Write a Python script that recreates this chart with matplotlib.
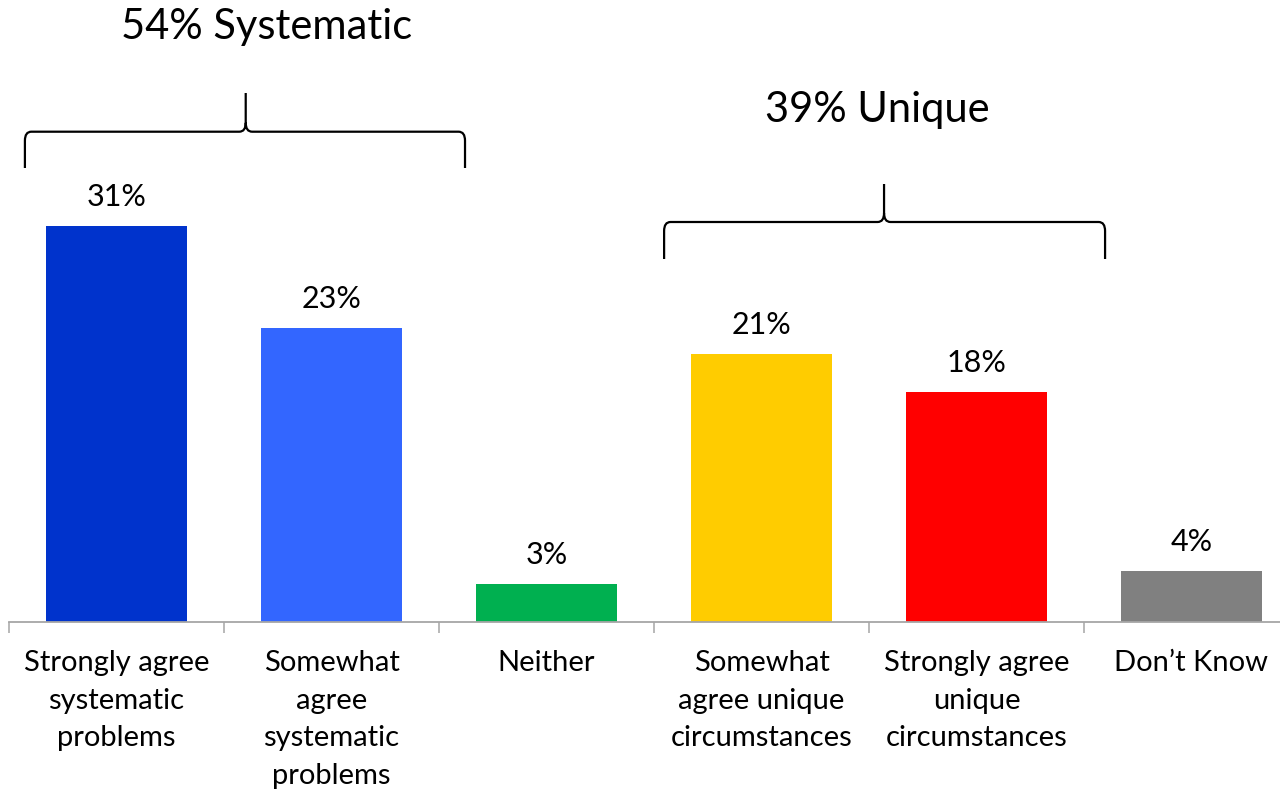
import matplotlib
matplotlib.use("Agg")
import matplotlib.pyplot as plt
from matplotlib.path import Path
from matplotlib.patches import PathPatch

# ---- data ----
categories = [
    "Strongly agree\nsystematic\nproblems",
    "Somewhat\nagree\nsystematic\nproblems",
    "Neither",
    "Somewhat\nagree unique\ncircumstances",
    "Strongly agree\nunique\ncircumstances",
    "Don\u2019t Know",
]
values = [31, 23, 3, 21, 18, 4]
value_labels = ["31%", "23%", "3%", "21%", "18%", "4%"]
group_labels = ["54% Systematic", "39% Unique"]

# ---- style ----
colors = ["#0033CC", "#3366FF", "#00B050", "#FFCC00", "#FF0000", "#808080"]
FONT = "Lato"
plt.rcParams["font.family"] = [FONT, "DejaVu Sans"]

W, H = 1280, 791
fig = plt.figure(figsize=(W / 100, H / 100), dpi=100)
ax_left, ax_right, ax_bottom = 9, 1280, 622
ax = fig.add_axes([ax_left / W, (H - ax_bottom) / H, (ax_right - ax_left) / W, ax_bottom / H])

px_per_cat = 215.0
px_per_unit = 12.77
x0 = -0.5
x1 = x0 + (ax_right - ax_left) / px_per_cat

xs = list(range(len(values)))
bars = ax.bar(xs, values, width=0.66, color=colors, zorder=2)

for b, lab in zip(bars, value_labels):
    ax.annotate(lab, (b.get_x() + b.get_width() / 2, b.get_height()),
                xytext=(0, 14.4), textcoords="offset points",
                ha="center", va="baseline", fontsize=22, color="#000000")

for s in ["top", "right", "left"]:
    ax.spines[s].set_visible(False)
ax.spines["bottom"].set_color("#A6A6A6")
ax.spines["bottom"].set_linewidth(1.3)
ax.set_yticks([])
ax.set_xticks(xs)
ax.set_xticklabels(categories, fontsize=21, linespacing=1.56)
ax.tick_params(axis="x", which="major", length=0, pad=20)
ax.set_xticks([i - 0.5 for i in range(len(values) + 1)], minor=True)
ax.tick_params(axis="x", which="minor", length=8, width=1.1, color="#A6A6A6", direction="out")

ax.set_xlim(x0, x1)
ax.set_ylim(0, ax_bottom / px_per_unit)


def ypx(p):
    return (ax_bottom - p) / px_per_unit


def brace(xl, xr, xc, y_bot, y_mid, y_tip, rx=0.03, ry=0.7):
    verts = [
        (xl, y_bot), (xl, y_mid - ry),
        (xl, y_mid), (xl + rx, y_mid),
        (xc - rx, y_mid),
        (xc, y_mid), (xc, y_mid + ry),
        (xc, y_tip),
        (xc, y_mid + ry),
        (xc, y_mid), (xc + rx, y_mid),
        (xr - rx, y_mid),
        (xr, y_mid), (xr, y_mid - ry),
        (xr, y_bot),
    ]
    codes = [Path.MOVETO, Path.LINETO,
             Path.CURVE3, Path.CURVE3,
             Path.LINETO,
             Path.CURVE3, Path.CURVE3,
             Path.LINETO,
             Path.MOVETO,
             Path.CURVE3, Path.CURVE3,
             Path.LINETO,
             Path.CURVE3, Path.CURVE3,
             Path.LINETO]
    ax.add_patch(PathPatch(Path(verts, codes), fill=False, lw=1.6,
                           edgecolor="black", clip_on=False, capstyle="butt"))


brace(-0.426, 1.621, 0.601, ypx(168), ypx(131.7), ypx(93))
brace(2.547, 4.598, 3.570, ypx(259), ypx(222), ypx(184))

ax.text(0.699, ypx(39.5), group_labels[0], ha="center", va="baseline", fontsize=30, color="black", clip_on=False)
ax.text(3.537, ypx(122.3), group_labels[1], ha="center", va="baseline", fontsize=30, color="black", clip_on=False)

fig.savefig("out.png", dpi=100, facecolor="white")
